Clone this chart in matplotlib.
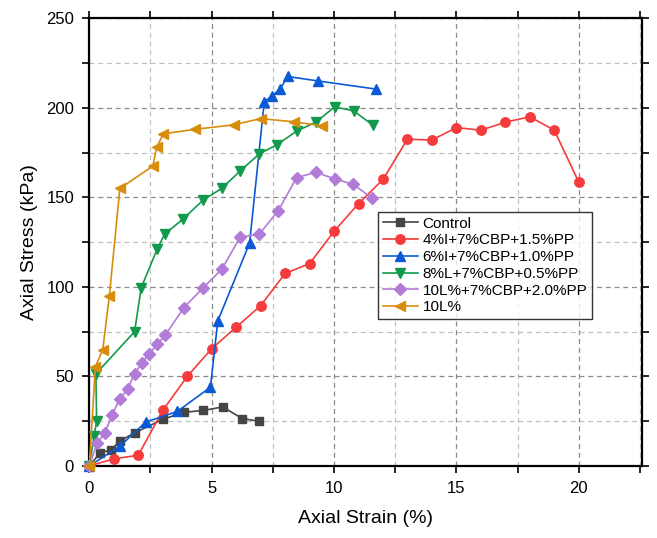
import matplotlib
matplotlib.use("Agg")
import matplotlib.pyplot as plt
from matplotlib.ticker import MultipleLocator

plt.rcParams['font.family'] = ['Liberation Sans', 'DejaVu Sans']

# ---- data ----
control_x = [0, 0.45, 0.9, 1.25, 1.85, 3.0, 3.85, 4.65, 5.45, 6.25, 6.95]
control_y = [0, 7.5, 9, 14, 18.5, 26, 30, 31, 33, 26.5, 25]

red_x = [0, 1, 2, 3, 4, 5, 6, 7, 8, 9, 10, 11, 12, 13, 14, 15, 16, 17, 18, 19, 20]
red_y = [0, 4, 6, 31, 50, 65.5, 77.5, 89.5, 107.5, 113, 131, 146.5, 160, 182.5,
         182, 189, 187.5, 192, 195, 187.5, 158.5]

blue_x = [0, 1.25, 2.3, 3.6, 4.95, 5.25, 6.55, 7.15, 7.45, 7.8, 8.1, 9.35, 11.7]
blue_y = [0, 11, 24.5, 30.5, 44, 81, 124.5, 203.5, 206.5, 210.5, 217.5, 215, 210.5]

green_x = [0, 0.2, 0.3, 0.27, 1.85, 2.12, 2.77, 3.08, 3.84, 4.65, 5.41, 6.16,
           6.95, 7.68, 8.47, 9.26, 10.02, 10.8, 11.6]
green_y = [0, 17, 25, 51.5, 75, 99.5, 121, 129.5, 138, 148.5, 155, 164.7,
           174.3, 179.5, 187, 192, 200.5, 198.3, 190.2]

purple_x = [0, 0.32, 0.64, 0.93, 1.24, 1.58, 1.85, 2.16, 2.45, 2.78, 3.1, 3.87,
            4.65, 5.42, 6.16, 6.95, 7.72, 8.47, 9.25, 10.04, 10.79, 11.54]
purple_y = [0, 12.7, 18.6, 28.5, 37.3, 43.2, 51.6, 57.5, 62.7, 68, 73, 88.5,
            99.5, 110, 127.7, 129.5, 142.6, 161, 164, 160.3, 157.2, 149.7]

orange_x = [0, 0.25, 0.55, 0.82, 1.25, 2.6, 2.75, 3.03, 4.32, 5.9, 7.0, 8.35, 9.5]
orange_y = [0, 55.5, 65, 95, 155, 167.5, 178, 185.5, 188, 190.5, 194, 192.2, 190]

labels = ["Control", "4%I+7%CBP+1.5%PP", "6%I+7%CBP+1.0%PP",
          "8%L+7%CBP+0.5%PP", "10L%+7%CBP+2.0%PP", "10L%"]

series = [
    (control_x, control_y, '#454545', 's', 6.0),
    (red_x, red_y, '#f53b3b', 'o', 6.8),
    (blue_x, blue_y, '#0a5ad6', '^', 7.5),
    (green_x, green_y, '#129a4c', 'v', 7.5),
    (purple_x, purple_y, '#b37bd8', 'D', 5.8),
    (orange_x, orange_y, '#d88c0c', '<', 7.5),
]

fig = plt.figure(figsize=(6.57, 5.38), dpi=100)
ax = fig.add_axes([0.1359, 0.1338, 0.9767 - 0.1359, 0.966 - 0.1338])

for (x, y, c, m, ms), lab in zip(series, labels):
    ax.plot(x, y, color=c, marker=m, markersize=ms, linewidth=1.2,
            label=lab, clip_on=False, zorder=3)

ax.set_xlim(0, 22.57)
ax.set_ylim(0, 250)
ax.xaxis.set_major_locator(MultipleLocator(5))
ax.xaxis.set_minor_locator(MultipleLocator(2.5))
ax.yaxis.set_major_locator(MultipleLocator(50))
ax.yaxis.set_minor_locator(MultipleLocator(25))

ax.grid(which='major', color='#8a8a8a', linestyle=(0, (4, 3)), linewidth=0.9)
ax.grid(which='minor', color='#c0c0c0', linestyle=(0, (4, 3)), linewidth=0.9)
ax.set_axisbelow(True)

for s in ax.spines.values():
    s.set_linewidth(1.6)
ax.tick_params(which='both', direction='out', length=5, width=1.2,
               top=True, right=True, labelsize=12, pad=6)

ax.set_xlabel("Axial Strain (%)", fontsize=14, labelpad=10)
ax.set_ylabel("Axial Stress (kPa)", fontsize=14, labelpad=6)

leg = ax.legend(loc='upper left', bbox_to_anchor=(0.523, 0.567), fontsize=11,
                frameon=True, fancybox=False, edgecolor='black',
                handlelength=2.3, handletextpad=0.3, labelspacing=0.18,
                borderpad=0.3, borderaxespad=0)
leg.get_frame().set_linewidth(1.0)

fig.savefig("out.png", dpi=100)
